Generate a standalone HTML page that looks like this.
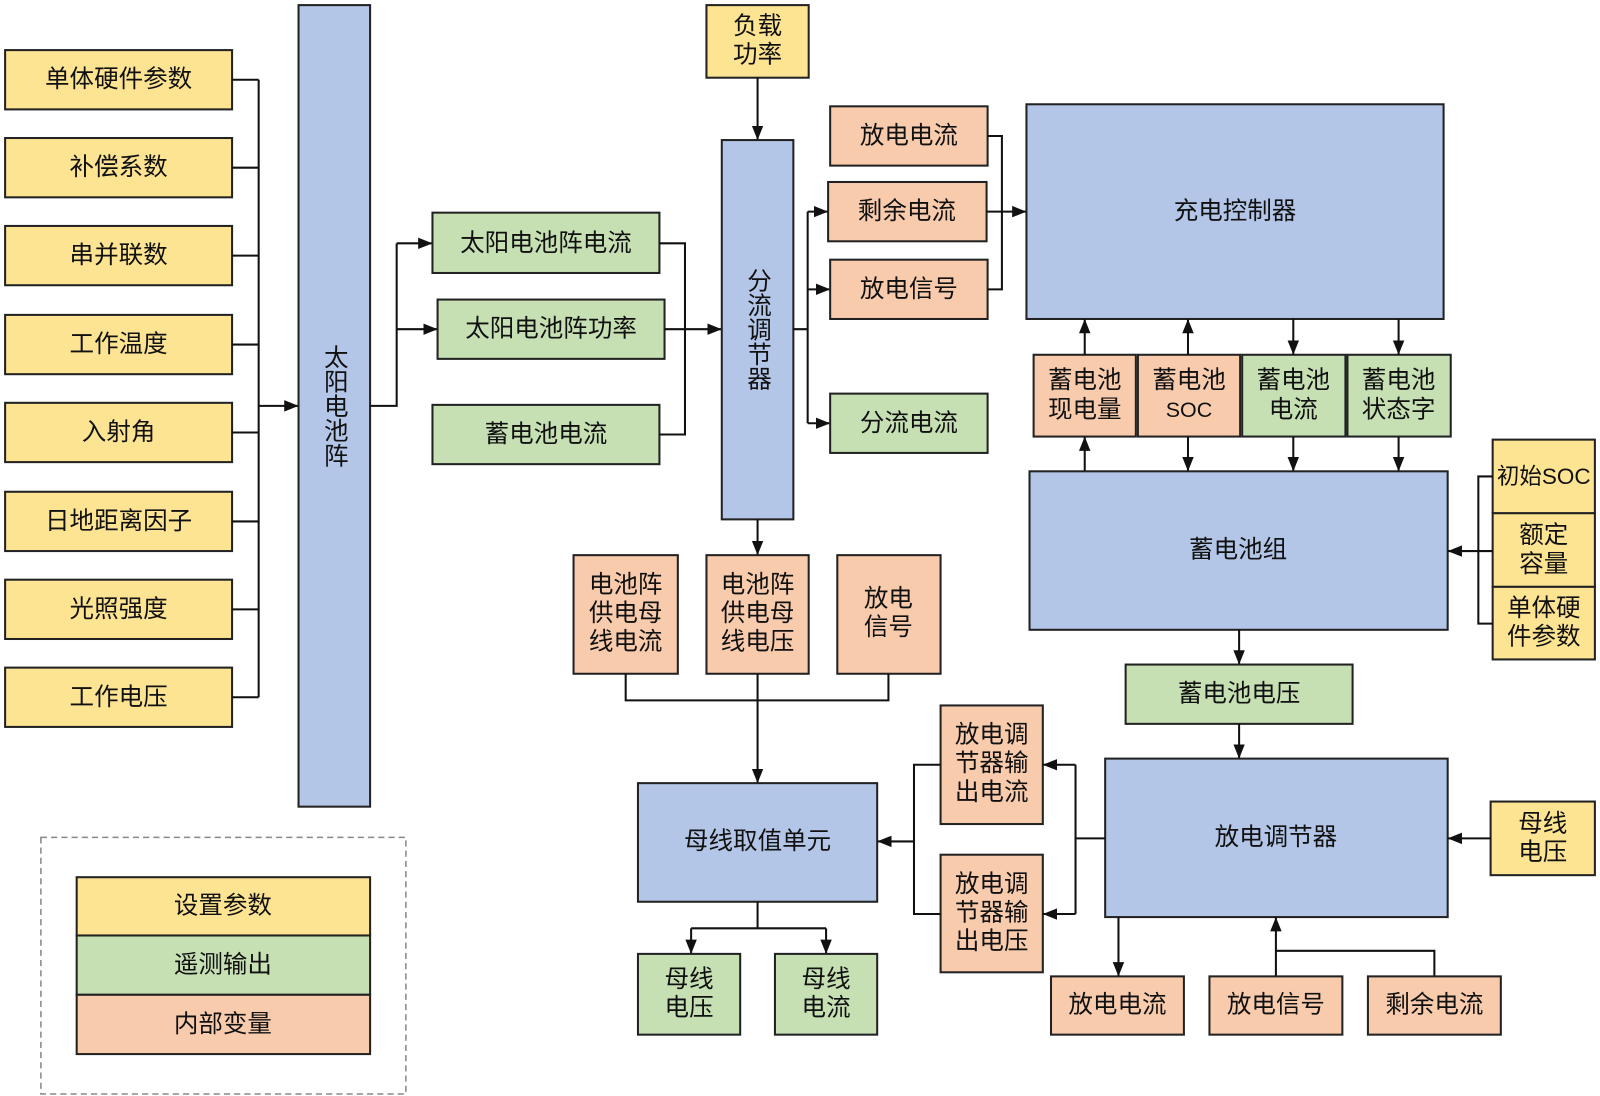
<!DOCTYPE html>
<html><head><meta charset="utf-8"><style>
html,body{margin:0;padding:0;background:#fff}
svg{display:block}
text{font-family:"Liberation Sans","Noto Sans CJK SC",sans-serif;font-size:24px;fill:#111;text-anchor:middle;dominant-baseline:central}
.y{fill:#fde492;stroke:#222;stroke-width:2}
.b{fill:#b4c6e7;stroke:#222;stroke-width:2}
.g{fill:#c6e0b4;stroke:#222;stroke-width:2}
.o{fill:#f8cbad;stroke:#222;stroke-width:2}
.l{fill:none;stroke:#111;stroke-width:2}
</style></head><body>
<svg width="1600" height="1096" viewBox="0 0 1565 1072" preserveAspectRatio="none" xmlns="http://www.w3.org/2000/svg">
<defs><marker id="a" viewBox="0 0 10 10" refX="10" refY="5" markerWidth="7" markerHeight="7" orient="auto" markerUnits="userSpaceOnUse"><path d="M0,0L10,5L0,10z" fill="#111"/></marker>
<marker id="m" viewBox="0 0 10 10" refX="10" refY="5" markerWidth="14" markerHeight="14" orient="auto" markerUnits="userSpaceOnUse"><path d="M0,1L10,5L0,9z" fill="#111"/></marker></defs>

<!-- left yellow -->
<g>
<rect class="y" x="5" y="49" width="222" height="58"/><text x="116" y="78">单体硬件参数</text>
<rect class="y" x="5" y="135" width="222" height="58"/><text x="116" y="164">补偿系数</text>
<rect class="y" x="5" y="221" width="222" height="58"/><text x="116" y="250">串并联数</text>
<rect class="y" x="5" y="308" width="222" height="58"/><text x="116" y="337">工作温度</text>
<rect class="y" x="5" y="394" width="222" height="58"/><text x="116" y="423">入射角</text>
<rect class="y" x="5" y="481" width="222" height="58"/><text x="116" y="510">日地距离因子</text>
<rect class="y" x="5" y="567" width="222" height="58"/><text x="116" y="596">光照强度</text>
<rect class="y" x="5" y="653" width="222" height="58"/><text x="116" y="682">工作电压</text>
</g>
<path class="l" d="M227 78H253M227 164H253M227 250H253M227 337H253M227 423H253M227 510H253M227 596H253M227 682H253M253 78V682"/>
<path class="l" d="M253 397H292" marker-end="url(#m)"/>
<rect class="b" x="292" y="5" width="70" height="784"/>
<text x="327" y="397" style="writing-mode:vertical-rl">太阳电池阵</text>

<path class="l" d="M362 397H388V238"/>
<path class="l" d="M388 238H423" marker-end="url(#m)"/>
<path class="l" d="M388 322H428" marker-end="url(#m)"/>
<rect class="g" x="423" y="208" width="222" height="59"/><text x="534" y="238">太阳电池阵电流</text>
<rect class="g" x="428" y="293" width="222" height="58"/><text x="539" y="322">太阳电池阵功率</text>
<rect class="g" x="423" y="396" width="222" height="58"/><text x="534" y="425">蓄电池电流</text>
<path class="l" d="M645 238H670V425H645M650 322H670"/>
<path class="l" d="M670 322H706" marker-end="url(#m)"/>

<rect class="y" x="691" y="5" width="100" height="71"/><text x="741" y="26">负载</text><text x="741" y="54">功率</text>
<path class="l" d="M741 76V137" marker-end="url(#m)"/>
<rect class="b" x="706" y="137" width="70" height="371"/>
<text x="741" y="322" style="writing-mode:vertical-rl">分流调节器</text>
<path class="l" d="M776 322H790M790 207V414"/>
<path class="l" d="M790 207H810" marker-end="url(#m)"/>
<path class="l" d="M790 283H812" marker-end="url(#m)"/>
<path class="l" d="M790 414H812" marker-end="url(#m)"/>
<rect class="o" x="812" y="104" width="154" height="58"/><text x="889" y="133">放电电流</text>
<rect class="o" x="810" y="178" width="155" height="58"/><text x="887" y="207">剩余电流</text>
<rect class="o" x="812" y="254" width="154" height="58"/><text x="889" y="283">放电信号</text>
<rect class="g" x="812" y="385" width="154" height="58"/><text x="889" y="414">分流电流</text>
<path class="l" d="M966 133H980V283H966M965 207H980"/>
<path class="l" d="M980 207H1004" marker-end="url(#m)"/>
<rect class="b" x="1004" y="102" width="408" height="210"/><text x="1208" y="207">充电控制器</text>

<rect class="o" x="1011" y="347" width="100" height="80"/><text x="1061" y="372">蓄电池</text><text x="1061" y="401">现电量</text>
<rect class="o" x="1113" y="347" width="100" height="80"/><text x="1163" y="372">蓄电池</text><text x="1163" y="401" style="font-size:21px">SOC</text>
<rect class="g" x="1215" y="347" width="101" height="80"/><text x="1265" y="372">蓄电池</text><text x="1265" y="401">电流</text>
<rect class="g" x="1318" y="347" width="101" height="80"/><text x="1368" y="372">蓄电池</text><text x="1368" y="401">状态字</text>
<path class="l" d="M1061 347V312" marker-end="url(#m)"/>
<path class="l" d="M1162 347V312" marker-end="url(#m)"/>
<path class="l" d="M1265 312V347" marker-end="url(#m)"/>
<path class="l" d="M1368 312V347" marker-end="url(#m)"/>
<path class="l" d="M1061 461V427" marker-end="url(#m)"/>
<path class="l" d="M1162 427V461" marker-end="url(#m)"/>
<path class="l" d="M1265 427V461" marker-end="url(#m)"/>
<path class="l" d="M1368 427V461" marker-end="url(#m)"/>
<rect class="b" x="1007" y="461" width="409" height="155"/><text x="1211" y="538">蓄电池组</text>

<rect class="y" x="1460" y="430" width="100" height="72"/><text x="1510" y="466" style="font-size:22px">初始SOC</text>
<rect class="y" x="1460" y="502" width="100" height="72"/><text x="1510" y="524">额定</text><text x="1510" y="552">容量</text>
<rect class="y" x="1460" y="574" width="100" height="71"/><text x="1510" y="595">单体硬</text><text x="1510" y="623">件参数</text>
<path class="l" d="M1460 466H1446V610H1460M1460 539H1446"/>
<path class="l" d="M1446 539H1416" marker-end="url(#m)"/>

<path class="l" d="M1212 616V650" marker-end="url(#m)"/>
<rect class="g" x="1101" y="650" width="222" height="58"/><text x="1212" y="679">蓄电池电压</text>
<path class="l" d="M1212 708V742" marker-end="url(#m)"/>
<rect class="b" x="1081" y="742" width="335" height="155"/><text x="1248" y="819">放电调节器</text>
<rect class="y" x="1458" y="784" width="102" height="72"/><text x="1509" y="806">母线</text><text x="1509" y="834">电压</text>
<path class="l" d="M1458 820H1416" marker-end="url(#m)"/>

<rect class="o" x="920" y="690" width="100" height="116"/><text x="970" y="719">放电调</text><text x="970" y="747">节器输</text><text x="970" y="775">出电流</text>
<rect class="o" x="920" y="836" width="100" height="115"/><text x="970" y="865">放电调</text><text x="970" y="893">节器输</text><text x="970" y="921">出电压</text>
<path class="l" d="M1081 820H1052V748M1052 820V894"/>
<path class="l" d="M1052 748H1020" marker-end="url(#m)"/>
<path class="l" d="M1052 894H1020" marker-end="url(#m)"/>
<path class="l" d="M920 748H894V894H920"/>
<path class="l" d="M894 823H858" marker-end="url(#m)"/>

<path class="l" d="M741 508V543" marker-end="url(#m)"/>
<rect class="o" x="561" y="543" width="102" height="116"/><text x="612" y="572">电池阵</text><text x="612" y="600">供电母</text><text x="612" y="628">线电流</text>
<rect class="o" x="691" y="543" width="100" height="116"/><text x="741" y="572">电池阵</text><text x="741" y="600">供电母</text><text x="741" y="628">线电压</text>
<rect class="o" x="819" y="543" width="101" height="116"/><text x="869" y="586">放电</text><text x="869" y="614">信号</text>
<path class="l" d="M612 659V685H869V659"/>
<path class="l" d="M741 659V766" marker-end="url(#m)"/>
<rect class="b" x="624" y="766" width="234" height="116"/><text x="741" y="823">母线取值单元</text>
<path class="l" d="M741 882V908M676 908H808"/>
<path class="l" d="M676 908V933" marker-end="url(#m)"/>
<path class="l" d="M808 908V933" marker-end="url(#m)"/>
<rect class="g" x="624" y="933" width="100" height="79"/><text x="674" y="958">母线</text><text x="674" y="986">电压</text>
<rect class="g" x="758" y="933" width="100" height="79"/><text x="808" y="958">母线</text><text x="808" y="986">电流</text>

<path class="l" d="M1094 897V955" marker-end="url(#m)"/>
<path class="l" d="M1248 955V897" marker-end="url(#m)"/>
<path class="l" d="M1248 930H1403V955"/>
<rect class="o" x="1028" y="955" width="130" height="57"/><text x="1093" y="983">放电电流</text>
<rect class="o" x="1183" y="955" width="130" height="57"/><text x="1248" y="983">放电信号</text>
<rect class="o" x="1338" y="955" width="130" height="57"/><text x="1403" y="983">剩余电流</text>

<rect x="40" y="819" width="357" height="251" fill="none" stroke="#888" stroke-width="1.5" stroke-dasharray="6,4"/>
<rect class="y" x="75" y="858" width="287" height="57"/><text x="218" y="886">设置参数</text>
<rect class="g" x="75" y="915" width="287" height="58"/><text x="218" y="944">遥测输出</text>
<rect class="o" x="75" y="973" width="287" height="58"/><text x="218" y="1002">内部变量</text>
</svg>
</body></html>
